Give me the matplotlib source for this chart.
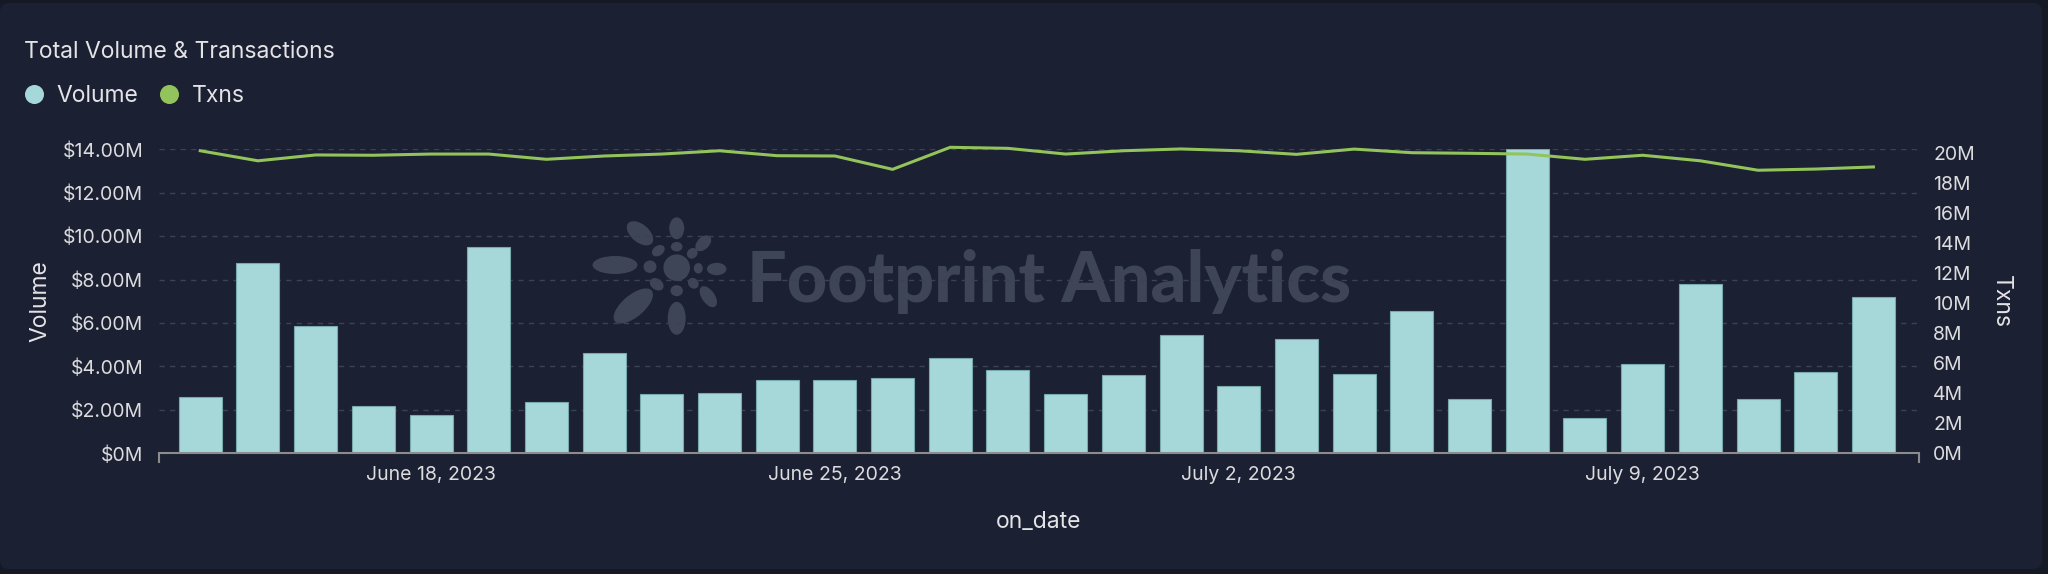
import numpy as np
import pandas as pd
import matplotlib
matplotlib.use("Agg")
import matplotlib.pyplot as plt
import matplotlib.dates as mdates
from matplotlib.patches import Ellipse, FancyBboxPatch
from matplotlib.lines import Line2D
from matplotlib.ticker import FuncFormatter, FixedLocator

# ---------------- data ----------------
dates = pd.date_range("2023-06-14", "2023-07-13", freq="D")
volume_musd = [2.58, 8.75, 5.88, 2.19, 1.75, 9.49, 2.35, 4.63, 2.72, 2.78,
               3.38, 3.38, 3.45, 4.40, 3.82, 2.72, 3.59, 5.43, 3.09, 5.28,
               3.67, 6.54, 2.49, 14.0, 1.61, 4.10, 7.78, 2.49, 3.73, 7.20]
txns_m = [20.17, 19.50, 19.89, 19.87, 19.95, 19.95, 19.60, 19.82, 19.95, 20.17,
          19.84, 19.82, 18.93, 20.40, 20.33, 19.95, 20.17, 20.29, 20.17, 19.93,
          20.28, 20.04, 20.00, 19.95, 19.60, 19.87, 19.50, 18.87, 18.95, 19.09]
tick_dates = ["2023-06-18", "2023-06-25", "2023-07-02", "2023-07-09"]
tick_labels = ["June 18, 2023", "June 25, 2023", "July 2, 2023", "July 9, 2023"]
volume_ticks_m = [0, 2, 4, 6, 8, 10, 12, 14]
txns_ticks_m = [0, 2, 4, 6, 8, 10, 12, 14, 16, 18, 20]
series_names = ["Volume", "Txns"]

# ---------------- style ----------------
W, H = 2048, 574
DPI = 100
OUTER = "#151926"
PANEL = "#1b2033"
BAR = "#a6d8da"
BAR_EDGE = "#78a9ad"
GREEN = "#93c35b"
GRID = "#3c4254"
TEXT = "#e4e4e6"
TICK = "#dcdcde"
WM = "#3e4556"
FONT = ["Inter", "DejaVu Sans"]

plt.rcParams["font.family"] = FONT

fig = plt.figure(figsize=(W / DPI, H / DPI), dpi=DPI, facecolor=OUTER)

# background / watermark layer in pixel coordinates
bg = fig.add_axes([0, 0, 1, 1], zorder=0)
bg.set_xlim(0, W)
bg.set_ylim(0, H)
bg.axis("off")
bg.add_patch(FancyBboxPatch((0, H - 569), 2042, 566,
                            boxstyle="round,pad=0,rounding_size=9",
                            facecolor=PANEL, edgecolor="none"))
logo = [
    (676.7, 267.7, 26.6, 26.6, 0),
    (676.7, 246.7, 11.7, 9.5, 0), (692.3, 253.3, 10, 11.5, -45),
    (698.3, 268.3, 9, 10.5, 0), (693.3, 283.3, 10, 11.5, 45),
    (676.7, 290.7, 12.5, 11, 0), (656.7, 284.3, 15, 11, -35),
    (650.0, 266.7, 13, 12.5, 0), (658.3, 250.7, 14, 10, 35),
    (676.7, 228.3, 15, 22, 0), (703.3, 243.3, 19, 12, 45),
    (716.7, 269.0, 19.5, 12.5, 0), (708.3, 296.7, 24, 13, -55),
    (676.7, 318.3, 18, 33, 0), (633.3, 306.0, 48, 22, 40),
    (615.0, 265.0, 45, 18, 0), (640.0, 233.3, 31, 18, -40),
]
for cx, cy, ew, eh, ang in logo:
    bg.add_patch(Ellipse((cx, H - cy), ew, eh, angle=ang, facecolor=WM, edgecolor="none"))
bg.text(1049, H - 281, "Footprint Analytics", ha="center", va="center",
        fontsize=50.5, fontweight="black", color=WM, family=["Lato", "DejaVu Sans"])

# main axes
ax_l, ax_r = 158.7, 1919.0
ax_top, ax_bot = 149.3, 453.3
ax = fig.add_axes([ax_l / W, 1 - ax_bot / H, (ax_r - ax_l) / W, (ax_bot - ax_top) / H], zorder=1)
ax.patch.set_visible(False)

x = mdates.date2num(dates.to_pydatetime())
vol = np.array(volume_musd) * 1e6
bars = ax.bar(x, vol, width=0.745, color=BAR, edgecolor=BAR_EDGE, linewidth=0.8, zorder=2)

ax.set_xlim(x[0] - 0.72, x[-1] + 0.79)
ax.set_ylim(0, 14e6)
ax.yaxis.set_major_locator(FixedLocator(np.array(volume_ticks_m) * 1e6))
ax.yaxis.set_major_formatter(FuncFormatter(lambda v, p: "$0M" if v == 0 else f"${v / 1e6:.2f}M"))
ax.set_axisbelow(True)
ax.yaxis.grid(True, color=GRID, linewidth=1.0, linestyle=(0, (3.8, 3.8)))
ax.xaxis.grid(False)
tx = mdates.date2num(pd.to_datetime(tick_dates).to_pydatetime())
ax.set_xticks(tx)
ax.set_xticklabels(tick_labels)
ax.set_xticks([x[0] - 0.72, x[-1] + 0.79], minor=True)
ax.tick_params(axis="x", which="major", length=0, pad=9.5, labelsize=14, labelcolor=TICK)
ax.tick_params(axis="x", which="minor", length=7.2, width=1.5, color="#8c8c8f")
ax.tick_params(axis="y", length=0, pad=11, labelsize=14, labelcolor=TICK)
for s in ["top", "left", "right"]:
    ax.spines[s].set_visible(False)
ax.spines["bottom"].set_color("#8c8c8f")
ax.spines["bottom"].set_linewidth(1.5)
ax.spines["bottom"].set_zorder(3)

ax.set_ylabel("Volume", fontsize=16.5, color=TEXT)
ax.yaxis.label.set_va("center")
ax.yaxis.set_label_coords(-0.0674, 0.5)
ax.set_xlabel("on_date", fontsize=16.5, color=TEXT)
ax.xaxis.label.set_va("center")
ax.xaxis.set_label_coords(0.5, -0.225)

# secondary axis
ax2 = ax.twinx()
ax2.set_zorder(2)
ax2.patch.set_visible(False)
ax2.plot(x, np.array(txns_m) * 1e6, color=GREEN, linewidth=2.2, clip_on=False,
         solid_joinstyle="round")
ax2.set_ylim(0, 20e6 * 304 / 300)
ax2.yaxis.set_major_locator(FixedLocator(np.array(txns_ticks_m) * 1e6))
ax2.yaxis.set_major_formatter(FuncFormatter(lambda v, p: f"{v / 1e6:.0f}M"))
ax2.tick_params(axis="y", length=0, pad=10.3, labelsize=14, labelcolor=TICK)
for s in ax2.spines.values():
    s.set_visible(False)
ax2.set_ylabel("Txns", fontsize=16.5, color=TEXT, rotation=270)
ax2.yaxis.label.set_va("center")
ax2.yaxis.set_label_coords(1.0466, 0.5)

# title & legend
fig.text(24.5 / W, 1 - 52.3 / H, "Total Volume & Transactions", ha="left", va="center",
         fontsize=16.5, color=TEXT)
handles = [Line2D([], [], marker="o", linestyle="", markersize=13.7, color=BAR, markeredgewidth=0),
           Line2D([], [], marker="o", linestyle="", markersize=13.7, color=GREEN, markeredgewidth=0)]
leg = fig.legend(handles, series_names, loc="center left",
                 bbox_to_anchor=(23.7 / W, 1 - 95.7 / H), ncol=2, frameon=False,
                 fontsize=16.5, labelcolor=TEXT, handlelength=0.9, handletextpad=0.54,
                 columnspacing=0.87, borderpad=0, borderaxespad=0)

fig.savefig("out.png", dpi=DPI, facecolor=OUTER)
